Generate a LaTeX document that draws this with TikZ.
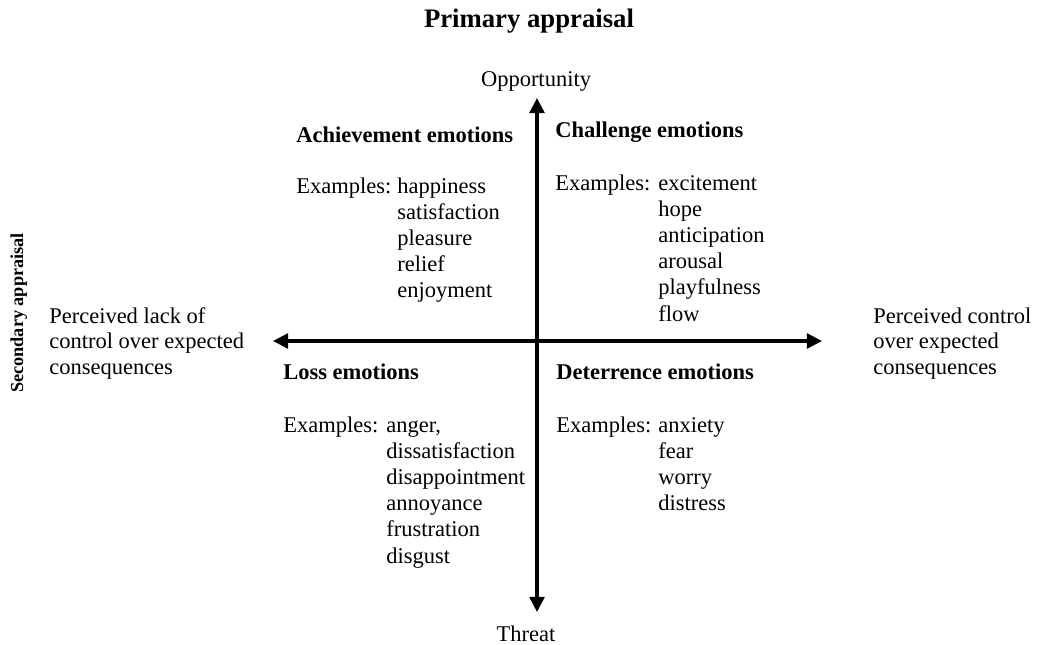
\documentclass[tikz,border=0pt]{standalone}
\usepackage{fontspec}
\setmainfont{Liberation Serif}
\usetikzlibrary{arrows.meta}

\begin{document}
\begin{tikzpicture}[x=0.025cm, y=-0.025cm,
    body/.style={font=\fontsize{16}{18.64}\selectfont, inner sep=0pt, anchor=base west},
    heading/.style={body, font=\fontsize{16}{18.64}\selectfont\bfseries},
    side/.style={body, font=\fontsize{16}{18.2}\selectfont, align=left},
    axis/.style={line width=2.3pt, >={Triangle[length=10.7pt, width=10.5pt]}, <->}]

        \useasboundingbox (0,0) rectangle (1037,644);

        \node[font=\fontsize{19}{22}\selectfont\bfseries, inner sep=0pt, anchor=base]
        (primary) at (529,28) {Primary appraisal};
        \node[font=\fontsize{13}{15}\selectfont\bfseries, inner sep=0pt, anchor=base, rotate=90]
        (secondary) at (23,313) {Secondary appraisal};

        \node[body, anchor=base] (opportunity) at (536,87) {Opportunity};
        \node[body, anchor=base] (threat) at (526,641) {Threat};

        \node[side] (lackcontrol) at (49,323)
        {\begin{tabular}[t]{@{}l@{}}Perceived lack of\\control over expected\\consequences\end{tabular}};
        \node[side] (control) at (873,323)
        {\begin{tabular}[t]{@{}l@{}}Perceived control\\over expected\\consequences\end{tabular}};

        % #######################################

        \node[heading] (achievement) at (296,142) {Achievement emotions};
        \node[body] (achex) at (296,193) {Examples:};
        \node[body] (achlist) at (397,193)
        {\begin{tabular}[t]{@{}l@{}}happiness\\satisfaction\\pleasure\\relief\\enjoyment\end{tabular}};

        \node[heading] (challenge) at (555,137) {Challenge emotions};
        \node[body] (chalex) at (555,190) {Examples:};
        \node[body] (challist) at (658,190)
        {\begin{tabular}[t]{@{}l@{}}excitement\\hope\\anticipation\\arousal\\playfulness\\flow\end{tabular}};

        \node[heading] (loss) at (283,379) {Loss emotions};
        \node[body] (lossex) at (283,432) {Examples:};
        \node[body] (losslist) at (386,432)
        {\begin{tabular}[t]{@{}l@{}}anger,\\dissatisfaction\\disappointment\\annoyance\\frustration\\disgust\end{tabular}};

        \node[heading] (deterrence) at (556,379) {Deterrence emotions};
        \node[body] (detex) at (556,432) {Examples:};
        \node[body] (detlist) at (658,432)
        {\begin{tabular}[t]{@{}l@{}}anxiety\\fear\\worry\\distress\end{tabular}};

        % #######################################

        \coordinate (upper) at (537,98);
        \coordinate (lower) at (537,612);
        \coordinate (left) at (273,341);
        \coordinate (right) at (822,341);

        \draw[axis] (lower) -- (upper);
        \draw[axis] (left) -- (right);

    \end{tikzpicture}
\end{document}
